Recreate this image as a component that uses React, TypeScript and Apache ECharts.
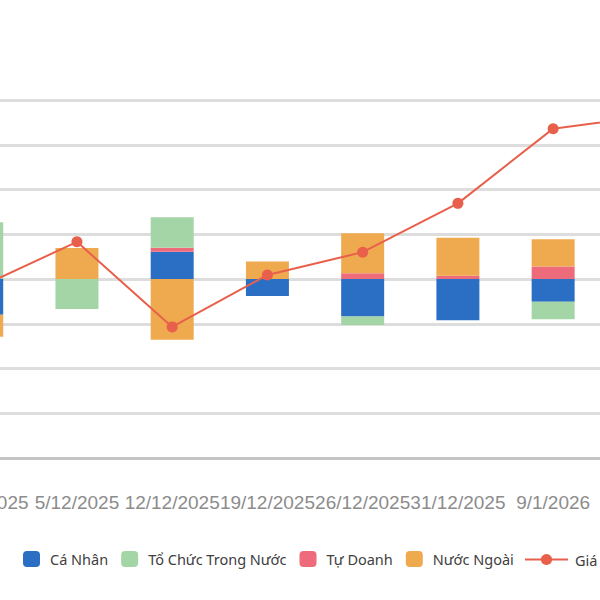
import React, { useEffect, useRef } from "react";
import * as echarts from "echarts";

const categories = ["28/11/2025", "5/12/2025", "12/12/2025", "19/12/2025", "26/12/2025", "31/12/2025", "9/1/2026", "16/1/2026"];
const caNhan = [-80, 0, 61, -38, -84, -92, -51, null];
const toChucTrongNuoc = [127, -67, 68, 0, -19, 0, -39, null];
const tuDoanh = [0, 0, 9, 0, 13, 7, 28, null];
const nuocNgoai = [-49, 69, -136, 39, 89, 85, 61, null];
const gia = [27.84, 28.83, 26.93, 28.09, 28.6, 29.69, 31.36, 31.64];

const names = ["Cá Nhân", "Tổ Chức Trong Nước", "Tự Doanh", "Nước Ngoài", "Giá"];
const colors = { cn: "#2a6fc4", tc: "#a4d5a6", td: "#ee6b7c", nn: "#efaa4f", gia: "#e8604c" };

const OFFSET = 68;
const CHART_W = 764;

export default function App() {
  const ref = useRef<HTMLDivElement>(null);
  useEffect(() => {
    if (!ref.current) return;
    const chart = echarts.init(ref.current, undefined, { renderer: "svg" });
    const bar = (name: string, data: any[], color: string) => ({
      name,
      type: "bar",
      stack: "flow",
      data,
      barWidth: 43,
      itemStyle: { color },
      xAxisIndex: 0,
      yAxisIndex: 0,
    });
    chart.setOption({
      animation: false,
      backgroundColor: "#ffffff",
      grid: { left: 0, right: 0, top: 100, bottom: 142, containLabel: false },
      legend: [
        {
          data: names.slice(0, 4),
          left: 23 + OFFSET,
          top: 551,
          padding: 0,
          itemWidth: 17,
          itemHeight: 16,
          itemGap: 13,
          icon: "roundRect",
          textStyle: { fontFamily: "Noto Sans", fontSize: 14.5, color: "#404040", padding: [0, 0, 0, 5] },
        },
        {
          data: [names[4]],
          left: 524 + OFFSET,
          top: 552,
          padding: 0,
          itemWidth: 43,
          itemHeight: 14,
          textStyle: { fontFamily: "Noto Sans", fontSize: 14.5, color: "#404040", padding: [0, 0, 0, 2] },
        },
      ],
      xAxis: {
        type: "category",
        data: categories,
        axisLine: { onZero: false, lineStyle: { color: "#c4c4c4", width: 3 } },
        axisTick: { show: false },
        axisLabel: { interval: 0, margin: 35, fontFamily: "Liberation Sans", fontSize: 19, color: "#8c8c8c" },
      },
      yAxis: [
        {
          type: "value",
          min: -400,
          max: 400,
          interval: 100,
          axisLabel: { show: false },
          axisLine: { show: false },
          axisTick: { show: false },
          splitLine: { lineStyle: { color: "#dddddd", width: 3 } },
        },
        {
          type: "value",
          min: 24,
          max: 32,
          interval: 1,
          axisLabel: { show: false },
          axisLine: { show: false },
          axisTick: { show: false },
          splitLine: { show: false },
        },
      ],
      series: [
        bar(names[0], caNhan, colors.cn),
        bar(names[2], tuDoanh, colors.td),
        bar(names[1], toChucTrongNuoc, colors.tc),
        bar(names[3], nuocNgoai, colors.nn),
        {
          name: names[4],
          type: "line",
          data: gia,
          yAxisIndex: 1,
          symbol: "circle",
          symbolSize: 11,
          lineStyle: { color: colors.gia, width: 2 },
          itemStyle: { color: colors.gia },
          z: 5,
        },
      ],
    });
    return () => chart.dispose();
  }, []);
  return (
    <div style={{ position: "fixed", left: 0, top: 0, width: 600, height: 600, overflow: "hidden", background: "#fff" }}>
      <div ref={ref} style={{ position: "absolute", left: -OFFSET, top: 0, width: CHART_W, height: 600 }} />
    </div>
  );
}
